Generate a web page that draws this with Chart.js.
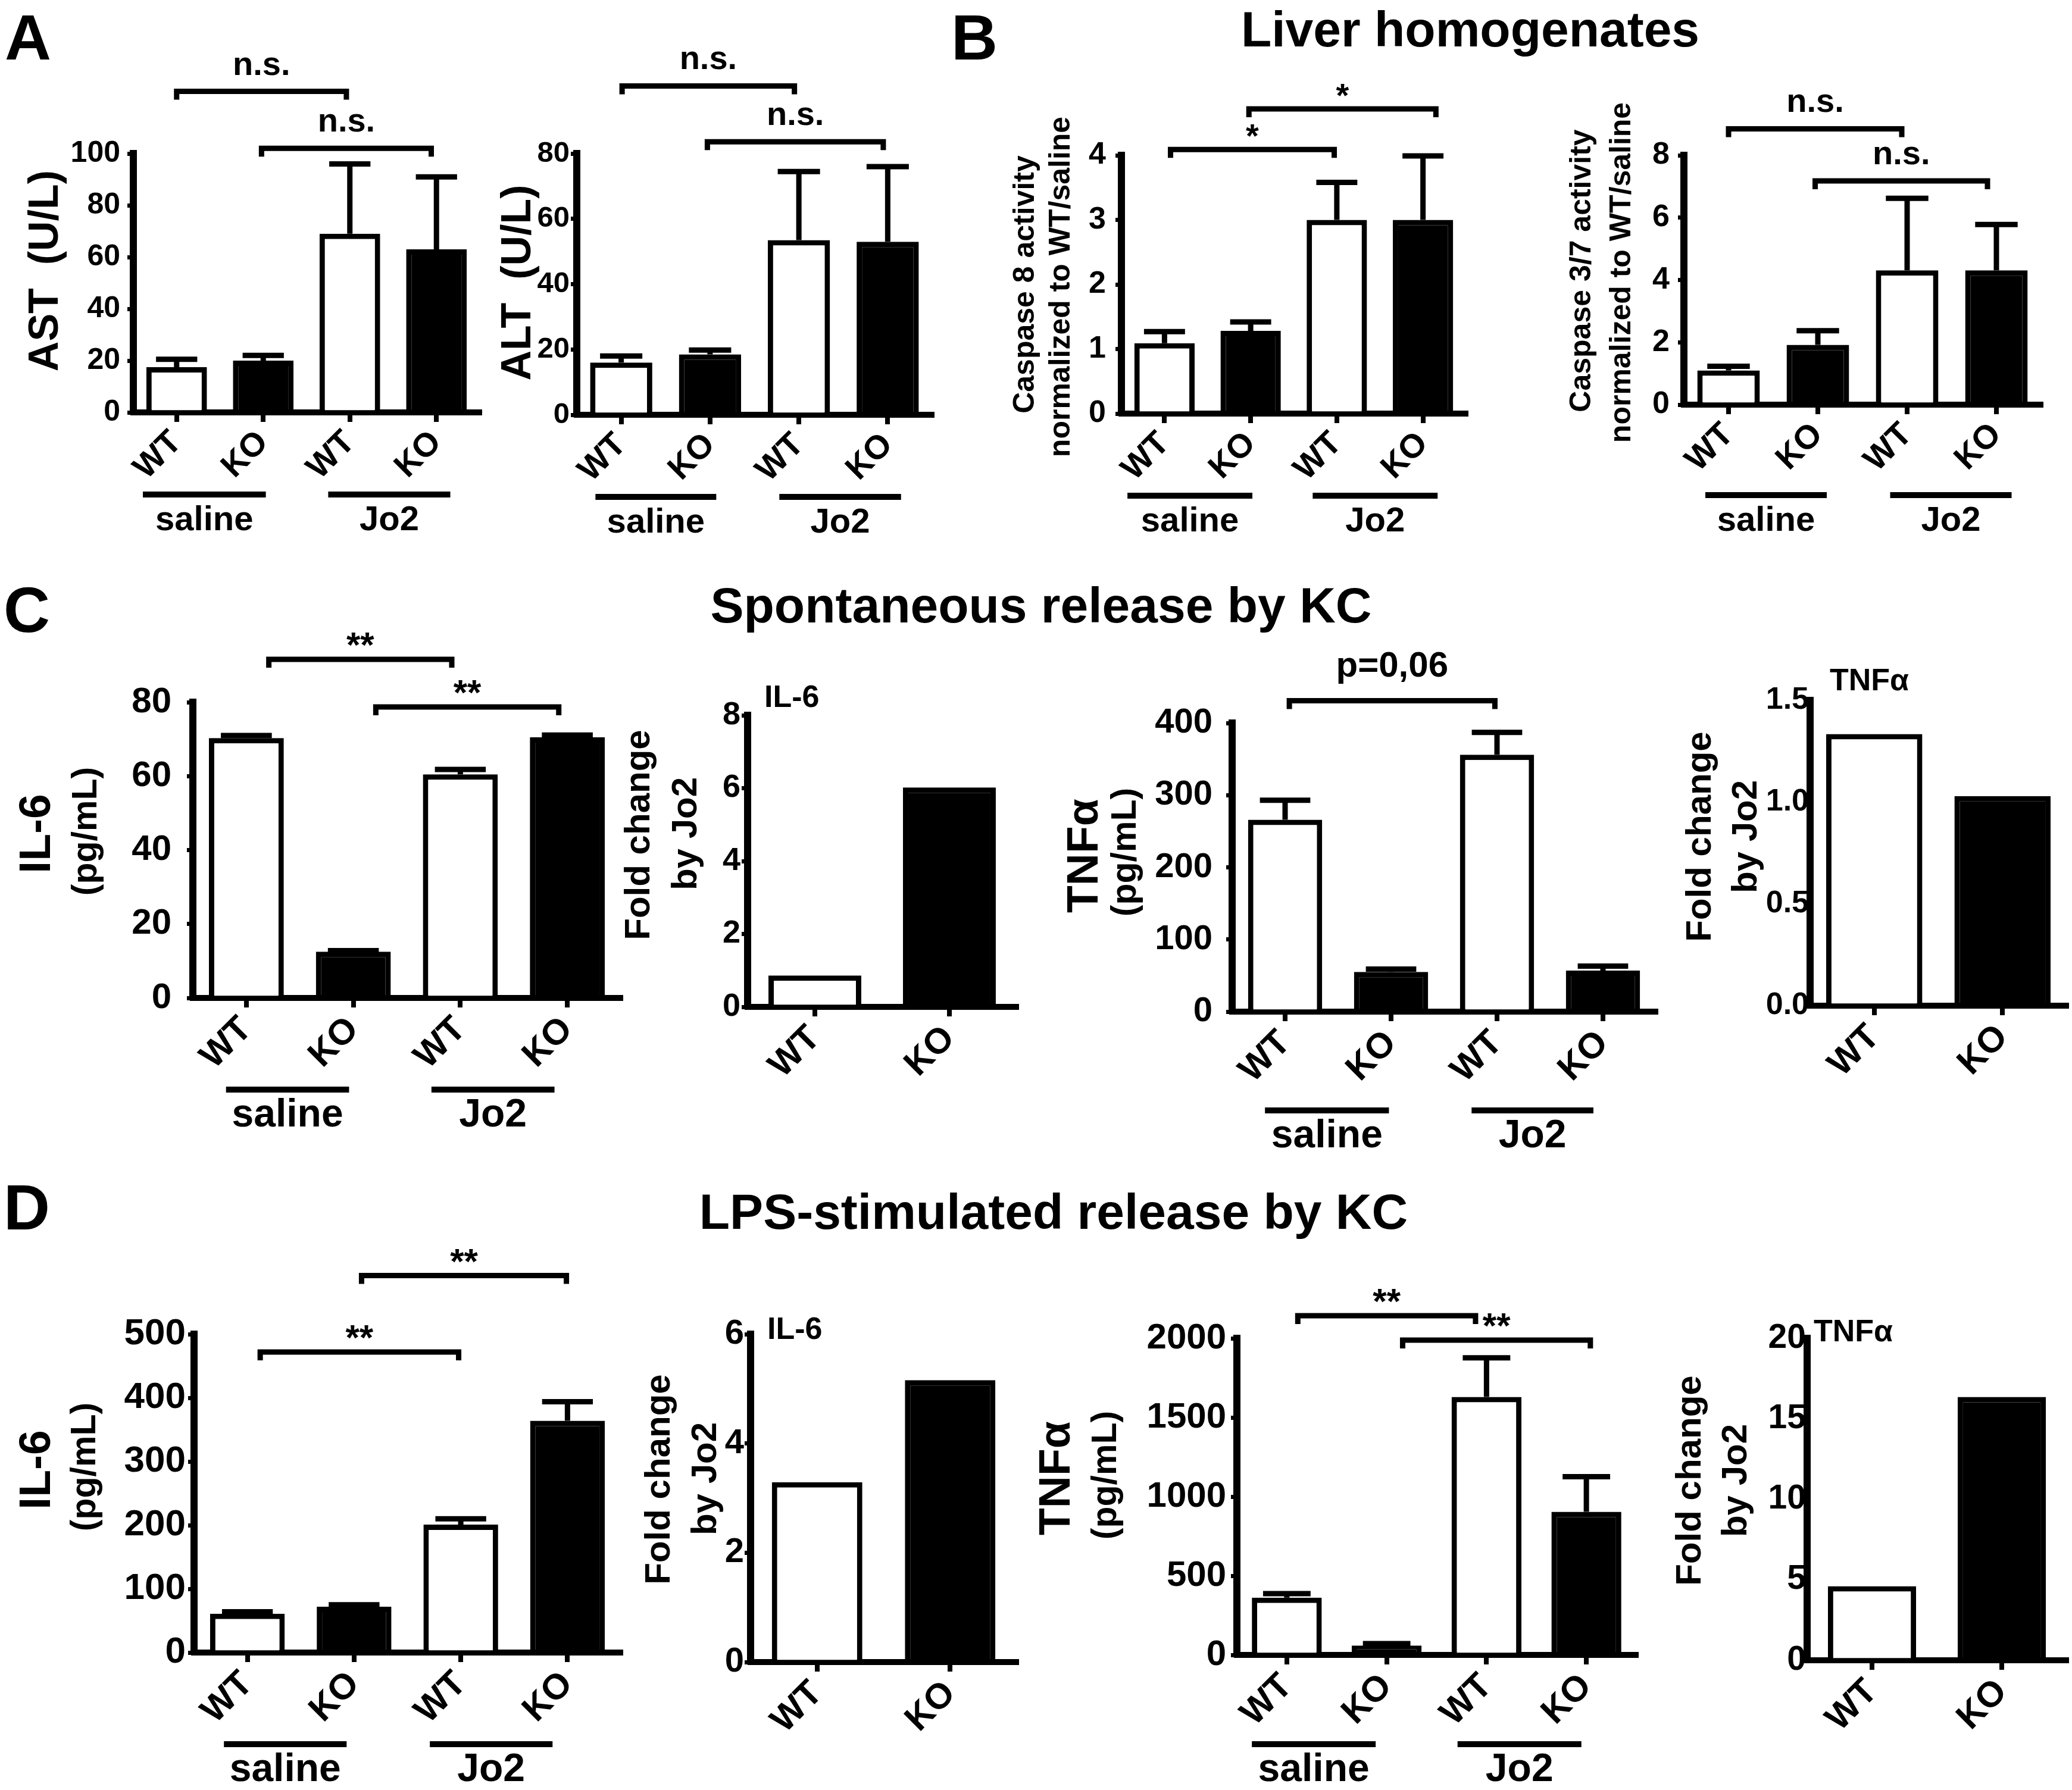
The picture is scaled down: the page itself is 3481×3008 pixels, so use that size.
<!DOCTYPE html>
<html>
<head>
<meta charset="utf-8">
<script src="https://cdn.jsdelivr.net/npm/chart.js@4"></script>
<style>
  html, body { margin: 0; padding: 0; background: #fff; }
  body { width: 3481px; height: 3008px; overflow: hidden; position: relative;
         font-family: "Liberation Sans", Arial, sans-serif; font-weight: bold; color: #000; }
  canvas { position: absolute; }
  .t { position: absolute; white-space: nowrap; line-height: 1; }
</style>
</head>
<body>
<script>
// --- Data ---
const groupLabels = ['WT', 'KO', 'WT', 'KO'];
const foldLabels = ['WT', 'KO'];

const astMean = [17.5, 20, 69, 63];
const astSem = [3, 2, 27, 28];
const altMean = [16, 18.5, 53.5, 53];
const altSem = [2, 1.3, 21, 23];

const casp8Mean = [1.09, 1.28, 3.0, 3.0];
const casp8Sem = [0.18, 0.14, 0.58, 0.99];
const casp37Mean = [1.1, 1.92, 4.31, 4.31];
const casp37Sem = [0.13, 0.45, 2.31, 1.47];

const il6SpontMean = [70.3, 12.5, 60.5, 70.5];
const il6SpontSem = [0.7, 0.3, 1.3, 0.6];
const il6SpontFold = [0.86, 6.02];
const tnfSpontMean = [266, 55, 356, 57];
const tnfSpontSem = [27, 4, 31, 6];
const tnfSpontFold = [1.335, 1.03];

const il6LpsMean = [61, 72, 201, 364];
const il6LpsSem = [3, 3, 9, 30];
const il6LpsFold = [3.29, 5.16];
const tnfLpsMean = [362, 59, 1630, 904];
const tnfLpsSem = [25, 12, 247, 222];
const tnfLpsFold = [4.6, 16.36];

// --- Layout / style ---
const FONT = '"Liberation Sans", Arial, sans-serif';
const fills4 = ['#fff', '#000', '#fff', '#000'];
const fills2 = ['#fff', '#000'];
const rowAB = { xlab: 56, group: 58, sig: 56 };
const rowCD = { xlab: 60, group: 66, sig: 60 };

// plot = [left, top, right, bottom] of the plot area in page pixels
const panels = [
    { plot: [224, 258, 806, 693], row: rowAB, tick: 50, gap: 22, labels: groupLabels, mean: astMean, sem: astSem, max: 100, step: 20,
      brackets: [[0, 1.96, 124, 'n.s.'], [0.98, 2.94, 102, 'n.s.']],
      groups: [['saline', -0.39, 1.03], ['Jo2', 1.75, 3.16]], groupY: 138 },
    { plot: [969, 258, 1566, 697], row: rowAB, tick: 49, gap: 12, labels: groupLabels, mean: altMean, sem: altSem, max: 80, step: 20,
      brackets: [[0.01, 1.95, 100.7, 'n.s.'], [0.97, 2.95, 83.6, 'n.s.']],
      groups: [['saline', -0.29, 1.07], ['Jo2', 1.78, 3.15]], groupY: 138 },
    { plot: [1884, 261, 2463, 695], row: rowAB, tick: 52, gap: 26, labels: groupLabels, mean: casp8Mean, sem: casp8Sem, max: 4, step: 1,
      brackets: [[0.07, 1.97, 4.09, '*'], [0.98, 3.15, 4.72, '*']],
      groups: [['saline', -0.43, 1.02], ['Jo2', 1.72, 3.17]], groupY: 138 },
    { plot: [2829, 261, 3429, 680], row: rowAB, tick: 52, gap: 24, labels: groupLabels, mean: casp37Mean, sem: casp37Sem, max: 8, step: 2,
      brackets: [[0, 1.94, 8.85, 'n.s.'], [0.97, 2.9, 7.18, 'n.s.']],
      groups: [['saline', -0.26, 1.1], ['Jo2', 1.81, 3.17]], groupY: 152 },

    { plot: [324, 1180, 1043, 1677], row: rowCD, tick: 60, gap: 36, labels: groupLabels, mean: il6SpontMean, sem: il6SpontSem, max: 80, step: 20,
      brackets: [[0.21, 1.92, 91.6, '**'], [1.21, 2.92, 78.7, '**']],
      groups: [['saline', -0.19, 0.96], ['Jo2', 1.73, 2.88]], groupY: 154 },
    { plot: [1256, 1202, 1708, 1692], row: rowCD, tick: 54, gap: 12, labels: foldLabels, mean: il6SpontFold, max: 8, step: 2, bar: 0.69 },
    { plot: [2070, 1215, 2782, 1700], row: rowCD, tick: 58, gap: 33, labels: groupLabels, mean: tnfSpontMean, sem: tnfSpontSem, max: 400, step: 100,
      brackets: [[0.04, 1.98, 431, 'p=0,06']],
      groups: [['saline', -0.19, 0.98], ['Jo2', 1.76, 2.91]], groupY: 166 },
    { plot: [3041, 1177, 3472, 1690], row: rowCD, tick: 52, gap: 2, labels: foldLabels, mean: tnfSpontFold, max: 1.5, step: 0.5, bar: 0.75,
      fmt: v => v.toFixed(1) },

    { plot: [326, 2242, 1043, 2777], row: rowCD, tick: 62, gap: 14, labels: groupLabels, mean: il6LpsMean, sem: il6LpsSem, max: 500, step: 100,
      brackets: [[0.12, 1.98, 472, '**'], [1.07, 2.99, 592, '**']],
      groups: [['saline', -0.22, 0.93], ['Jo2', 1.71, 2.86]], groupY: 154 },
    { plot: [1261, 2242, 1708, 2793], row: rowCD, tick: 58, gap: 11, labels: foldLabels, mean: il6LpsFold, max: 6, step: 2, bar: 0.68 },
    { plot: [2078, 2249, 2749, 2781], row: rowCD, tick: 60, gap: 18, labels: groupLabels, mean: tnfLpsMean, sem: tnfLpsSem, max: 2000, step: 500,
      brackets: [[0.11, 1.89, 2143, '**'], [1.16, 3.04, 1989, '**']],
      groups: [['saline', -0.35, 0.89], ['Jo2', 1.71, 2.95]], groupY: 150 },
    { plot: [3036, 2249, 3472, 2790], row: rowCD, tick: 57, gap: 2, labels: foldLabels, mean: tnfLpsFold, max: 20, step: 5, bar: 0.68 }
];

// [text, x, y, size, rotated, leftAligned]
const texts = [
    ['A', 8, 63, 108, false, true],
    ['B', 1598, 63, 108, false, true],
    ['C', 6, 1025, 108, false, true],
    ['D', 6, 2029, 108, false, true],
    ['Liver homogenates', 2470, 49, 84],
    ['Spontaneous release by KC', 1749, 1017, 84],
    ['LPS-stimulated release by KC', 1770, 2036, 84],

    ['AST\u00a0\u00a0(U/L)', 73, 455, 70, true],
    ['ALT\u00a0\u00a0(U/L)', 867, 475, 70, true],
    ['Caspase 8 activity', 1720, 478, 50, true],
    ['normalized to WT/saline', 1780, 482, 50, true],
    ['Caspase 3/7 activity', 2655, 455, 50, true],
    ['normalized to WT/saline', 2722, 458, 50, true],

    ['IL-6', 58, 1401, 75, true],
    ['(pg/mL)', 142, 1397, 59, true],
    ['Fold change', 1071, 1403, 60, true],
    ['by Jo2', 1150, 1401, 60, true],
    ['IL-6', 1284, 1170, 52, false, true],
    ['TNF\u03b1', 1818, 1438, 75, true],
    ['(pg/mL)', 1888, 1432, 59, true],
    ['Fold change', 2854, 1406, 60, true],
    ['by Jo2', 2931, 1406, 60, true],
    ['TNF\u03b1', 3074, 1142, 52, false, true],

    ['IL-6', 58, 2470, 75, true],
    ['(pg/mL)', 140, 2465, 59, true],
    ['Fold change', 1105, 2486, 60, true],
    ['by Jo2', 1183, 2485, 60, true],
    ['IL-6', 1289, 2232, 52, false, true],
    ['TNF\u03b1', 1771, 2484, 75, true],
    ['(pg/mL)', 1855, 2479, 59, true],
    ['Fold change', 2837, 2488, 60, true],
    ['by Jo2', 2914, 2488, 60, true],
    ['TNF\u03b1', 3047, 2236, 52, false, true]
];

function addText([t, x, y, size, rot, left]) {
    const d = document.createElement('div');
    d.className = 't';
    d.textContent = t;
    d.style.left = x + 'px';
    d.style.top = y + 'px';
    d.style.fontSize = size + 'px';
    d.style.transform = (left ? 'translateY(-50%)' : 'translate(-50%,-50%)') + (rot ? ' rotate(-90deg)' : '');
    document.body.appendChild(d);
}

// how far a bracket label sits above its bracket line
const lift = t => t[0] === '*' ? 4 : (t[0] === 'p' ? 40 : 28);

function decor(p) {
    return {
        id: 'decor',
        afterDatasetsDraw(chart) {
            if (!p.sem) return;
            const ctx = chart.ctx, ys = chart.scales.y;
            const bars = chart.getDatasetMeta(0).data;
            ctx.save();
            ctx.strokeStyle = '#000';
            ctx.lineWidth = 9;
            p.sem.forEach((e, i) => {
                const b = bars[i];
                const top = ys.getPixelForValue(p.mean[i] + e);
                const half = b.width * 0.34;
                ctx.beginPath();
                ctx.moveTo(b.x, b.y);
                ctx.lineTo(b.x, top);
                ctx.moveTo(b.x - half, top);
                ctx.lineTo(b.x + half, top);
                ctx.stroke();
            });
            ctx.restore();
        },
        afterDraw(chart) {
            const ctx = chart.ctx, xs = chart.scales.x, ys = chart.scales.y;
            const area = chart.chartArea;
            ctx.save();
            ctx.strokeStyle = '#000';
            ctx.fillStyle = '#000';
            ctx.textAlign = 'center';
            ctx.lineWidth = 9;
            ctx.font = `bold ${p.row.sig}px ${FONT}`;
            (p.brackets || []).forEach(([a, b, lvl, txt]) => {
                const xa = xs.getPixelForValue(a), xb = xs.getPixelForValue(b);
                const yy = ys.getPixelForValue(lvl);
                ctx.beginPath();
                ctx.moveTo(xa, yy + 14);
                ctx.lineTo(xa, yy);
                ctx.lineTo(xb, yy);
                ctx.lineTo(xb, yy + 14);
                ctx.stroke();
                ctx.fillText(txt, (xa + xb) / 2, yy - lift(txt));
            });
            ctx.lineWidth = 10;
            ctx.textBaseline = 'middle';
            ctx.font = `bold ${p.row.group}px ${FONT}`;
            (p.groups || []).forEach(([txt, a, b]) => {
                const xa = xs.getPixelForValue(a), xb = xs.getPixelForValue(b);
                const yy = area.bottom + p.groupY;
                ctx.beginPath();
                ctx.moveTo(xa, yy);
                ctx.lineTo(xb, yy);
                ctx.stroke();
                ctx.fillText(txt, (xa + xb) / 2, yy + 44);
            });
            ctx.restore();
        }
    };
}

function makeChart(p) {
    const [L, T, R, B] = p.plot;
    const x0 = L - (p.labels.length === 2 ? 150 : 180);
    const x1 = Math.min(R + 40, 3481);
    const y0 = T - 230, y1 = B + 260;
    const tickLen = 10;

    const cv = document.createElement('canvas');
    cv.width = x1 - x0;
    cv.height = y1 - y0;
    cv.style.left = x0 + 'px';
    cv.style.top = y0 + 'px';
    document.body.appendChild(cv);

    const font = size => ({ family: FONT, size, weight: 'bold' });

    new Chart(cv, {
        type: 'bar',
        data: {
            labels: p.labels,
            datasets: [{
                data: p.mean,
                backgroundColor: p.labels.length === 4 ? fills4 : fills2,
                borderColor: '#000',
                borderWidth: 9,
                barPercentage: p.bar || 0.7,
                categoryPercentage: 1
            }]
        },
        options: {
            responsive: false,
            animation: false,
            devicePixelRatio: 1,
            layout: { padding: { left: 0, right: x1 - R, top: T - y0, bottom: 0 } },
            plugins: { legend: { display: false }, tooltip: { enabled: false } },
            scales: {
                x: {
                    z: 1,
                    grid: { offset: false, drawOnChartArea: false, tickLength: 16, lineWidth: 8, color: '#000' },
                    border: { width: 10, color: '#000' },
                    ticks: { color: '#000', font: font(p.row.xlab), minRotation: 45, maxRotation: 45, autoSkip: false, padding: 2 },
                    afterFit: s => { s.height = y1 - B; }
                },
                y: {
                    z: 1,
                    min: 0,
                    max: p.max,
                    grid: { drawOnChartArea: false, tickLength: tickLen, lineWidth: 7, color: '#000' },
                    border: { width: 12, color: '#000' },
                    ticks: { stepSize: p.step, color: '#000', font: font(p.tick), padding: p.gap - tickLen,
                             callback: p.fmt || (v => v) },
                    afterFit: s => { s.width = L - x0; }
                }
            }
        },
        plugins: [decor(p)]
    });
}

texts.forEach(addText);
panels.forEach(makeChart);
</script>
</body>
</html>
